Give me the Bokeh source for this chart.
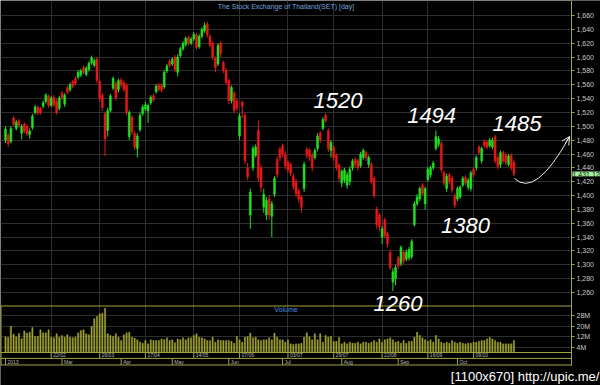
from bokeh.plotting import figure
from bokeh.models import (ColumnDataSource, Range1d, FixedTicker, NumeralTickFormatter,
                          Label, Arrow, OpenHead, LinearAxis, Grid, BoxAnnotation)
from bokeh.core.properties import value
from bokeh.embed import file_html
from bokeh.resources import INLINE

# ---------------- data ----------------
opens = [1480, 1487, 1478, 1512, 1497, 1508, 1490, 1503, 1500, 1488,
         1498, 1520, 1527, 1526, 1529, 1536, 1543, 1530, 1542, 1536,
         1526, 1548, 1532, 1555, 1553, 1565, 1569, 1571, 1574, 1585,
         1575, 1582, 1592, 1588, 1597, 1565, 1545, 1518, 1494, 1523,
         1555, 1562, 1553, 1567, 1563, 1559, 1485, 1513, 1490, 1468,
         1495, 1518, 1525, 1522, 1534, 1544, 1550, 1560, 1559, 1557,
         1580, 1594, 1590, 1600, 1578, 1602, 1612, 1618, 1628, 1620,
         1626, 1632, 1615, 1630, 1638, 1648, 1630, 1620, 1598, 1590,
         1620, 1592, 1581, 1566, 1537, 1548, 1537, 1486, 1535, 1516,
         1440, 1372, 1440, 1458, 1494, 1440, 1383, 1372, 1395, 1370,
         1402, 1452, 1467, 1472, 1460, 1448, 1445, 1428, 1420, 1407,
         1398, 1410, 1467, 1466, 1458, 1455, 1468, 1490, 1497, 1516,
         1494, 1465, 1470, 1458, 1444, 1418, 1422, 1415, 1420, 1440,
         1452, 1450, 1443, 1455, 1462, 1445, 1445, 1425, 1380, 1372,
         1340, 1365, 1345, 1318, 1275, 1280, 1310, 1302, 1318, 1308,
         1310, 1312, 1358, 1388, 1395, 1415, 1388, 1423, 1430, 1440,
         1468, 1474, 1475, 1433, 1410, 1430, 1425, 1400, 1395, 1398,
         1415, 1426, 1412, 1410, 1438, 1440, 1470, 1450, 1478, 1477,
         1472, 1470, 1485, 1455, 1445, 1462, 1458, 1445, 1458, 1448]
highs = [1500, 1490, 1500, 1515, 1509, 1511, 1503, 1506, 1503, 1497,
         1518, 1531, 1530, 1528, 1537, 1548, 1546, 1544, 1545, 1540,
         1544, 1551, 1548, 1558, 1563, 1567, 1572, 1581, 1583, 1588,
         1587, 1594, 1602, 1598, 1600, 1568, 1548, 1521, 1527, 1547,
         1572, 1565, 1569, 1570, 1566, 1562, 1523, 1516, 1493, 1490,
         1520, 1531, 1535, 1533, 1545, 1547, 1561, 1563, 1562, 1581,
         1590, 1597, 1600, 1603, 1604, 1615, 1623, 1630, 1631, 1629,
         1636, 1635, 1633, 1643, 1650, 1651, 1633, 1623, 1601, 1620,
         1623, 1595, 1584, 1569, 1559, 1551, 1540, 1519, 1537, 1520,
         1447, 1410, 1472, 1474, 1508, 1445, 1410, 1398, 1400, 1392,
         1428, 1456, 1470, 1475, 1464, 1451, 1448, 1432, 1424, 1410,
         1401, 1449, 1470, 1468, 1462, 1468, 1490, 1493, 1513, 1519,
         1497, 1480, 1473, 1461, 1447, 1438, 1440, 1434, 1442, 1453,
         1455, 1453, 1463, 1468, 1465, 1458, 1448, 1428, 1384, 1375,
         1356, 1368, 1348, 1322, 1295, 1300, 1313, 1328, 1321, 1322,
         1326, 1337, 1392, 1402, 1413, 1418, 1413, 1441, 1443, 1450,
         1494, 1486, 1478, 1436, 1432, 1433, 1428, 1403, 1413, 1415,
         1428, 1429, 1425, 1436, 1441, 1458, 1473, 1471, 1481, 1480,
         1483, 1484, 1488, 1458, 1465, 1465, 1461, 1460, 1461, 1451]
lows = [1476, 1470, 1475, 1500, 1494, 1498, 1481, 1490, 1486, 1482,
        1495, 1517, 1516, 1517, 1526, 1533, 1527, 1528, 1528, 1517,
        1523, 1538, 1528, 1546, 1550, 1555, 1559, 1568, 1571, 1575,
        1572, 1579, 1589, 1585, 1562, 1536, 1522, 1457, 1485, 1520,
        1552, 1537, 1549, 1556, 1550, 1516, 1480, 1488, 1466, 1455,
        1492, 1515, 1522, 1505, 1531, 1535, 1547, 1550, 1549, 1554,
        1577, 1585, 1587, 1578, 1572, 1599, 1609, 1615, 1617, 1617,
        1623, 1611, 1612, 1627, 1635, 1628, 1614, 1596, 1578, 1587,
        1600, 1577, 1560, 1532, 1533, 1519, 1522, 1480, 1512, 1445,
        1422, 1352, 1436, 1455, 1420, 1405, 1375, 1365, 1365, 1340,
        1398, 1425, 1450, 1455, 1438, 1433, 1428, 1408, 1398, 1390,
        1375, 1405, 1453, 1450, 1435, 1452, 1464, 1476, 1494, 1505,
        1463, 1455, 1450, 1436, 1420, 1412, 1418, 1410, 1415, 1436,
        1440, 1436, 1440, 1452, 1450, 1440, 1416, 1396, 1352, 1348,
        1330, 1338, 1325, 1292, 1262, 1270, 1294, 1298, 1300, 1305,
        1306, 1308, 1355, 1385, 1392, 1400, 1380, 1420, 1426, 1437,
        1465, 1470, 1433, 1414, 1405, 1416, 1404, 1382, 1392, 1395,
        1412, 1415, 1408, 1406, 1426, 1436, 1459, 1446, 1469, 1467,
        1469, 1467, 1446, 1438, 1440, 1446, 1444, 1442, 1436, 1428]
closes = [1496, 1475, 1497, 1503, 1506, 1501, 1500, 1493, 1489, 1493,
          1515, 1528, 1519, 1520, 1534, 1545, 1530, 1541, 1531, 1520,
          1541, 1541, 1545, 1549, 1560, 1558, 1562, 1578, 1580, 1578,
          1584, 1591, 1599, 1595, 1566, 1540, 1527, 1482, 1523, 1544,
          1569, 1541, 1566, 1560, 1553, 1520, 1520, 1492, 1470, 1486,
          1516, 1528, 1531, 1530, 1542, 1538, 1558, 1553, 1552, 1578,
          1587, 1588, 1597, 1582, 1600, 1612, 1620, 1627, 1620, 1626,
          1633, 1614, 1630, 1640, 1646, 1632, 1617, 1600, 1585, 1617,
          1605, 1581, 1563, 1537, 1556, 1523, 1526, 1515, 1529, 1450,
          1427, 1405, 1468, 1470, 1425, 1412, 1402, 1393, 1372, 1388,
          1425, 1430, 1455, 1460, 1443, 1437, 1432, 1413, 1403, 1395,
          1383, 1445, 1458, 1456, 1440, 1465, 1486, 1480, 1510, 1508,
          1468, 1477, 1455, 1440, 1425, 1435, 1437, 1430, 1438, 1450,
          1445, 1440, 1460, 1465, 1455, 1455, 1420, 1400, 1358, 1355,
          1352, 1342, 1330, 1296, 1290, 1296, 1298, 1325, 1305, 1318,
          1322, 1334, 1388, 1398, 1410, 1403, 1410, 1438, 1440, 1447,
          1485, 1482, 1437, 1418, 1428, 1420, 1408, 1386, 1410, 1412,
          1425, 1418, 1422, 1433, 1430, 1455, 1462, 1468, 1472, 1470,
          1480, 1480, 1450, 1442, 1462, 1450, 1448, 1457, 1440, 1431.12]
volumes_m = [12, 11.5, 20, 14, 12, 14.5, 10.5, 16.5, 14.8, 15.5,
             19, 12.2, 12.2, 17.3, 15, 15, 17.3, 11.7, 11.2, 14.3,
             11.7, 13, 11.7, 13.5, 11.7, 11.2, 11.7, 15, 16.8, 17.3,
             14.3, 13.5, 20, 25.7, 27.5, 29.5, 30, 33.8, 14.3, 13,
             12.2, 14.3, 11.7, 9.2, 13.5, 15, 15.5, 11.7, 11, 9.7,
             8, 7.1, 9.2, 6.6, 9.7, 9.2, 9.2, 9.2, 10.4, 9.7,
             11.2, 9.2, 9.7, 7.5, 10.4, 9.7, 11.2, 9.7, 11.2, 11.2,
             13, 14.3, 11.7, 11.2, 10.4, 9.2, 9.2, 11.7, 7.9, 9.7,
             9.2, 9.2, 9.2, 9.2, 8.5, 7.1, 12.2, 9.7, 7.9, 11.7,
             12.2, 14.8, 11.2, 11.7, 9.7, 9.2, 9.7, 9.7, 11.2, 9.7,
             14.8, 11.7, 9.7, 9.7, 7.9, 9.7, 6.6, 6.1, 6.6, 6.6,
             7.1, 11.7, 15, 12, 9.7, 14.3, 9.7, 14.3, 7.9, 13,
             11.7, 12.5, 8.5, 8.5, 11.5, 6.6, 7.9, 6.6, 7.9, 7.1,
             7.1, 7.9, 6.6, 7.9, 7.9, 7.1, 7.9, 9.2, 7.9, 10.4,
             7.9, 9.7, 10.4, 11.2, 9.7, 7.9, 8.5, 7.1, 9.2, 7,
             8.5, 8.5, 11.7, 15.5, 13, 11.2, 9.7, 8.5, 9.7, 7.9,
             13, 10.4, 7.9, 7.1, 7.9, 7.1, 9.2, 7.9, 7.1, 7.9,
             7.1, 6.6, 7.1, 7.1, 7.9, 7.9, 8.5, 9.2, 9.2, 10.4,
             11.7, 10.4, 9.2, 7.9, 7.9, 6.6, 6.6, 6.6, 6.6, 9.2]

date_ticks = [17, 35, 52, 70, 87, 105, 122, 140, 157, 174]
date_labels = ["22/02", "26/03", "17/04", "14/05", "07/06",
               "03/07", "29/07", "22/08", "16/09", "09/10"]
month_ticks = [0, 21, 43, 62, 83, 103, 125, 146, 168]
month_labels = ["2013", "Mar", "Apr", "May", "Jun", "Jul", "Aug", "Sep", "Oct"]
price_ticks = list(range(1260, 1661, 20))
volume_ticks = [4, 12, 20, 28]
volume_tick_labels = ["4M", "12M", "20M", "28M"]

peak_labels = ["1520", "1494", "1485", "1380", "1260"]
peak_x = [123.6, 158.4, 190.1, 171.0, 145.9]
peak_y = [1537.2, 1515.5, 1504.0, 1356.7, 1244.0]

# ---------------- layout / styles ----------------
BG = "#000000"
GRID = "#2e2e2e"
AXIS = "#a3a33c"
VOLC = "#a3a332"
UP = "#22e022"
DOWN = "#e81818"
LBL = "#c8c8c8"
FONT = "Liberation Sans"

X0, X1 = -1.86, 221.18          # index range across the 600 px canvas
AX = 210.4                       # index where the right-hand scale sits
PRICE_LO, PRICE_HI = 1241.2, 1681.7   # price panel extent
VOL_TOP, VOL_BOT, ROW = 35.5, -9.55, -4.5

n = len(closes)
idx = list(range(n))
colors = [UP if c >= o else DOWN for o, c in zip(opens, closes)]
tops = [max(o, c) for o, c in zip(opens, closes)]
bots = [min(o, c) for o, c in zip(opens, closes)]
src = ColumnDataSource(dict(x=idx, high=highs, low=lows, top=tops, bottom=bots, color=colors))

p = figure(width=600, height=385, x_range=Range1d(X0, X1), y_range=Range1d(1125.66, PRICE_HI),
           x_axis_location=None, y_axis_location=None, toolbar_location=None,
           output_backend="svg", background_fill_color=BG, border_fill_color=BG,
           outline_line_color=None, min_border=0)
p.extra_y_ranges = {"vol": Range1d(-25.20, 268.80)}

def style_axis(ax):
    ax.axis_line_color = AXIS
    ax.major_tick_line_color = AXIS
    ax.major_tick_out = 3
    ax.major_tick_in = 0
    ax.minor_tick_line_color = None
    ax.major_label_text_color = LBL
    ax.major_label_text_font_size = "7px"
    ax.major_label_text_font = FONT
    ax.major_label_standoff = 2

pax = LinearAxis(fixed_location=AX, ticker=FixedTicker(ticks=price_ticks),
                 formatter=NumeralTickFormatter(format="0,0"), bounds=(1240.4, PRICE_HI))
style_axis(pax)
p.add_layout(pax, "right")
vax = LinearAxis(y_range_name="vol", fixed_location=AX, ticker=FixedTicker(ticks=volume_ticks),
                 major_label_overrides=dict(zip(volume_ticks, volume_tick_labels)),
                 bounds=(VOL_BOT, VOL_TOP + 0.4))
style_axis(vax)
p.add_layout(vax, "right")

p.ygrid.ticker = FixedTicker(ticks=price_ticks)
p.xgrid.ticker = FixedTicker(ticks=date_ticks)
p.grid.grid_line_color = GRID
p.add_layout(Grid(dimension=1, y_range_name="vol", ticker=FixedTicker(ticks=volume_ticks),
                  grid_line_color=GRID))
# keep grid lines out of the scale area and the date strip
p.add_layout(BoxAnnotation(left=AX, fill_color=BG, fill_alpha=1, line_color=None, level="underlay"))
p.add_layout(BoxAnnotation(top=0, y_range_name="vol", fill_color=BG, fill_alpha=1,
                           line_color=None, level="underlay"))

# candles
p.segment(x0="x", y0="low", x1="x", y1="high", line_color="color", line_width=1, source=src)
p.vbar(x="x", width=0.72, top="top", bottom="bottom", fill_color="color",
       line_color="color", line_width=0.5, source=src)

# volume
p.vbar(x=idx, top=volumes_m, bottom=0, width=0.45, fill_color=VOLC, line_color=VOLC,
       line_width=0.5, y_range_name="vol")

# panel frame lines and date strip
hl_y = [VOL_TOP, 0, ROW, VOL_BOT]
p.segment(x0=[X0] * 4, y0=hl_y, x1=[AX] * 4, y1=hl_y, line_color=AXIS, line_width=1,
          y_range_name="vol")
p.segment(x0=[X0 + 0.19], y0=[VOL_BOT], x1=[X0 + 0.19], y1=[VOL_TOP], line_color=AXIS,
          line_width=1, y_range_name="vol")
p.segment(x0=date_ticks, y0=[0] * len(date_ticks), x1=date_ticks, y1=[ROW] * len(date_ticks),
          line_color=AXIS, line_width=1, y_range_name="vol")
p.segment(x0=month_ticks, y0=[ROW] * len(month_ticks), x1=month_ticks,
          y1=[VOL_BOT] * len(month_ticks), line_color=AXIS, line_width=1, y_range_name="vol")
p.text(x=date_ticks, y=ROW / 2, text=date_labels, x_offset=2, text_baseline="middle",
       text_font=value(FONT), text_font_size="5px", text_color="#b8b8b8", y_range_name="vol")
p.text(x=month_ticks, y=(ROW + VOL_BOT) / 2, text=month_labels, x_offset=2,
       text_baseline="middle", text_font=value(FONT), text_font_size="5px",
       text_color="#b8b8b8", y_range_name="vol")

mid = (X0 + AX) / 2
p.add_layout(Label(x=mid, y=1673, text="The Stock Exchange of Thailand(SET) [day]",
                   text_align="center", text_baseline="middle", text_font=FONT,
                   text_font_size="7px", text_color="#6fa2de"))
p.add_layout(Label(x=mid, y=32.8, y_range_name="vol", text="Volume", text_align="center",
                   text_baseline="middle", text_font=FONT, text_font_size="7px",
                   text_color="#4a8fe0"))

p.text(x=peak_x, y=peak_y, text=peak_labels, text_align="center", text_baseline="alphabetic",
       text_font=value(FONT), text_font_style="italic", text_font_size="22px", text_color="white")

# forecast arrow after the last bar
last_i = n - 1
last_c = closes[-1]
p.quadratic(x0=[last_i + 0.2], y0=[last_c - 6.5], cx=[197.0], cy=[1395.8],
            x1=[209.7], y1=[1485.3], line_color="#e8e8e8", line_width=1)
p.add_layout(Arrow(end=OpenHead(size=8, line_color="#e8e8e8", line_width=1),
                   line_color="#e8e8e8", line_width=1,
                   x_start=208.2, y_start=1476.0, x_end=209.7, y_end=1485.3))

# last price box on the scale
p.add_layout(Label(x=AX, y=last_c, text=f"{last_c:,.2f}", text_align="left",
                   text_baseline="middle", text_font=FONT, text_font_size="7px",
                   text_color="#0a200a", background_fill_color="#a8f0a0", x_offset=1))

# image-host stamp under the chart
p.add_layout(Label(x=X1 - 0.4, y=-18.3, y_range_name="vol", text="[1100x670] http://upic.me/",
                   text_align="right", text_baseline="middle", text_font=FONT,
                   text_font_size="13px", text_color="white"))

open("out.html", "w").write(file_html(p, INLINE))
